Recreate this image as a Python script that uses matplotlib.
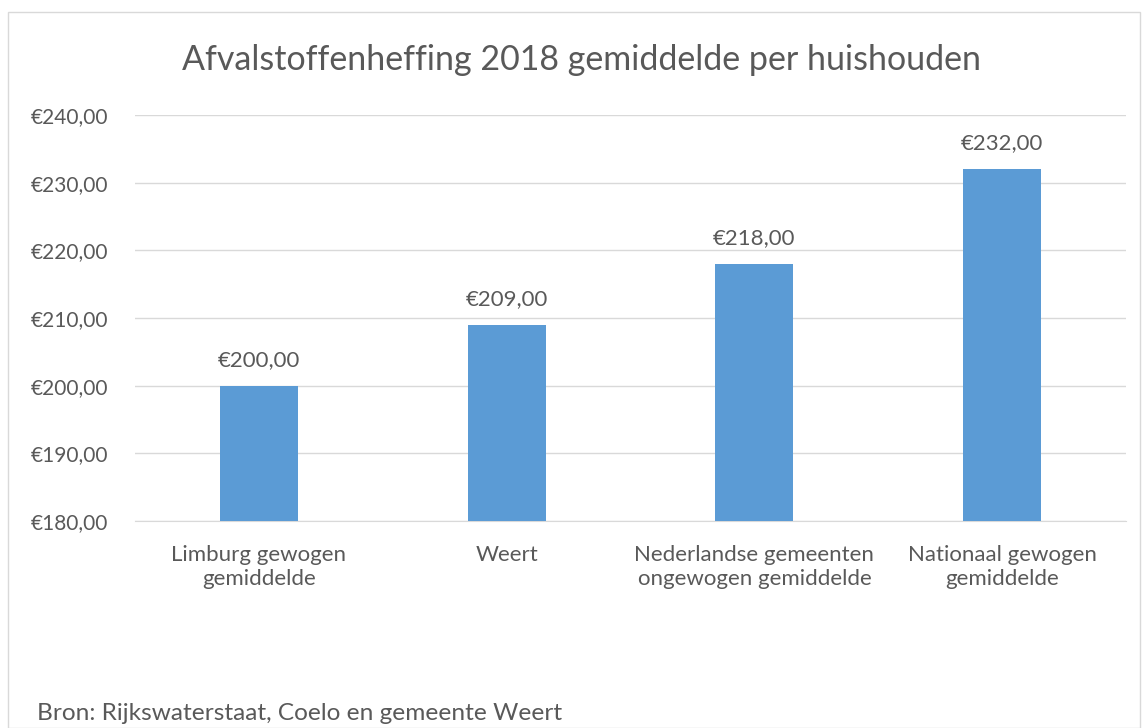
import matplotlib
matplotlib.use("Agg")
import matplotlib.pyplot as plt
from matplotlib.patches import Rectangle

categories = ["Limburg gewogen\ngemiddelde", "Weert", "Nederlandse gemeenten\nongewogen gemiddelde", "Nationaal gewogen\ngemiddelde"]
values = [200, 209, 218, 232]
yticks = [180, 190, 200, 210, 220, 230, 240]

def eur(v):
    return "€{:.2f}".format(v).replace(".", ",")

plt.rcParams['font.family'] = ['Lato', 'DejaVu Sans']
txt = '#595959'

fig = plt.figure(figsize=(11.43, 7.28), dpi=100)
fig.patches.append(Rectangle((8/1143, 0), 1132/1143, 1 - 12/728, transform=fig.transFigure,
                             fill=False, edgecolor='#D9D9D9', linewidth=1))
ax = fig.add_axes([135/1143, 1 - 521/728, 991/1143, 406/728])
x = list(range(len(categories)))
ax.bar(x, values, width=0.315, color='#5B9BD5', zorder=3)
ax.set_xlim(-0.5, 3.5)
ax.set_ylim(180, 240)
ax.set_yticks(yticks)
ax.set_yticklabels([eur(v) for v in yticks], color=txt, fontsize=15)
ax.set_xticks(x)
ax.set_xticklabels(categories, color=txt, fontsize=16, linespacing=1.25)
ax.tick_params(axis='both', length=0)
ax.tick_params(axis='x', pad=17)
ax.tick_params(axis='y', pad=19)
ax.grid(axis='y', color='#D9D9D9', linewidth=1, zorder=0)
for s in ['top', 'right', 'left']:
    ax.spines[s].set_visible(False)
ax.spines['bottom'].set_color('#D9D9D9')
for xi, v in zip(x, values):
    ax.annotate(eur(v), (xi, v), xytext=(0, 14.4), textcoords='offset points',
                ha='center', va='baseline', color=txt, fontsize=16)
fig.text(581/1143, 1 - 60/728, "Afvalstoffenheffing 2018 gemiddelde per huishouden",
         ha='center', va='center', color=txt, fontsize=24.5)
fig.text(37/1143, 1 - 713/728, "Bron: Rijkswaterstaat, Coelo en gemeente Weert",
         ha='left', va='center', color=txt, fontsize=17.6)
fig.savefig("out.png", dpi=100)
